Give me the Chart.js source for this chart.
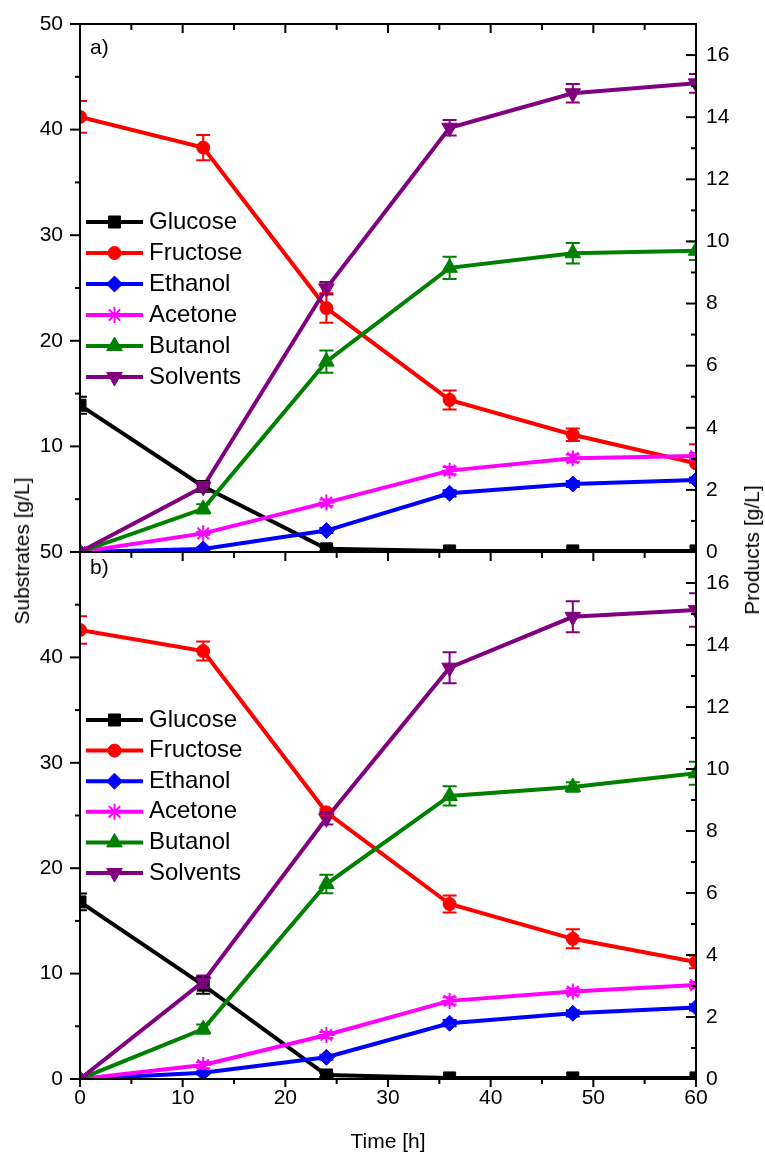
<!DOCTYPE html>
<html>
<head>
<meta charset="utf-8">
<title>Substrates and products over time</title>
<script src="https://cdn.jsdelivr.net/npm/chart.js@4.4.1/dist/chart.umd.min.js"></script>
<style>
  html, body { margin: 0; padding: 0; background: #fff; }
  #wrap { position: relative; width: 765px; height: 1155px; overflow: hidden; background: #fff; }
  canvas { position: absolute; left: 0; }
  #chartA { top: 0; }
  #chartB { top: 530px; }
  .ytitle {
    position: absolute;
    font: 21px 'Liberation Sans', Arial, Helvetica, sans-serif;
    color: #000;
    white-space: nowrap;
    transform: translate(-50%, -50%) rotate(-90deg);
  }
</style>
</head>
<body>
<div id="wrap">
  <canvas id="chartA" width="765" height="575"></canvas>
  <canvas id="chartB" width="765" height="625"></canvas>
  <div class="ytitle" style="left:22px; top:551px;">Substrates [g/L]</div>
  <div class="ytitle" style="left:752px; top:550px;">Products [g/L]</div>
</div>
<script>
// ---- data ----
const hours = [0, 12, 24, 36, 48, 60];
const seriesNames = ['Glucose', 'Fructose', 'Ethanol', 'Acetone', 'Butanol', 'Solvents'];

// fermentation a)
const glucoseA  = [13.9, 6.2, 0.3, 0.1, 0.1, 0.1];
const fructoseA = [41.2, 38.3, 23.1, 14.4, 11.1, 8.4];
const ethanolA  = [0, 0.1, 0.69, 1.89, 2.19, 2.32];
const acetoneA  = [0, 0.6, 1.59, 2.62, 3.02, 3.09];
const butanolA  = [0, 1.39, 6.13, 9.15, 9.62, 9.70];
const solventsA = [0, 2.10, 8.49, 13.66, 14.77, 15.09];

const glucoseErrA  = [0.8, 0.5, 0.2, 0, 0, 0];
const fructoseErrA = [1.5, 1.2, 1.4, 0.9, 0.6, 1.8];
const ethanolErrA  = [0, 0.05, 0.08, 0.1, 0.1, 0.08];
const acetoneErrA  = [0, 0.05, 0.1, 0.12, 0.12, 0.1];
const butanolErrA  = [0, 0.15, 0.36, 0.36, 0.33, 0.3];
const solventsErrA = [0, 0.15, 0.2, 0.25, 0.3, 0.3];

// fermentation b)
const glucoseB  = [16.8, 8.9, 0.38, 0.1, 0.1, 0.1];
const fructoseB = [42.6, 40.6, 25.3, 16.6, 13.3, 11.1];
const ethanolB  = [0, 0.2, 0.70, 1.80, 2.12, 2.31];
const acetoneB  = [0, 0.45, 1.42, 2.52, 2.82, 3.03];
const butanolB  = [0, 1.61, 6.29, 9.13, 9.42, 9.86];
const solventsB = [0, 3.14, 8.41, 13.27, 14.91, 15.13];

const glucoseErrB  = [0.8, 0.8, 0.2, 0, 0, 0];
const fructoseErrB = [1.3, 0.9, 0.3, 0.8, 0.9, 0.6];
const ethanolErrB  = [0, 0.05, 0.08, 0.1, 0.1, 0.1];
const acetoneErrB  = [0, 0.1, 0.1, 0.12, 0.1, 0.1];
const butanolErrB  = [0, 0.15, 0.3, 0.31, 0.15, 0.37];
const solventsErrB = [0, 0.2, 0.2, 0.5, 0.5, 0.54];

// ---- styles ----
const seriesStyles = [
  { color: '#000000', pointStyle: 'rect',     radius: 8.5, rotation: 0,   axis: 'y'  },
  { color: '#ff0000', pointStyle: 'circle',   radius: 6.5, rotation: 0,   axis: 'y'  },
  { color: '#0000ff', pointStyle: 'rectRot',  radius: 8,   rotation: 0,   axis: 'y2' },
  { color: '#ff00ff', pointStyle: 'star',     radius: 8,   rotation: 0,   axis: 'y2' },
  { color: '#008000', pointStyle: 'triangle', radius: 9,   rotation: 0,   axis: 'y2' },
  { color: '#800080', pointStyle: 'triangle', radius: 9,   rotation: 180, axis: 'y2' }
];

const FONT = "'Liberation Sans', Arial, Helvetica, sans-serif";
Chart.defaults.font.family = FONT;
Chart.defaults.font.size = 21;
Chart.defaults.color = '#000';

function makeDatasets(values, errors) {
  return seriesNames.map((name, i) => {
    const s = seriesStyles[i];
    return {
      label: name,
      data: hours.map((h, k) => ({ x: h, y: values[i][k] })),
      errors: errors[i],
      yAxisID: s.axis,
      borderColor: s.color,
      backgroundColor: s.color,
      borderWidth: 4,
      pointStyle: s.pointStyle,
      pointRadius: s.radius,
      pointHoverRadius: s.radius,
      pointRotation: s.rotation,
      pointBackgroundColor: s.color,
      pointBorderColor: s.color,
      pointBorderWidth: s.pointStyle === 'star' ? 2 : 1,
      tension: 0,
      clip: 0,
      order: seriesNames.length - 1 - i
    };
  });
}

// vertical error bars with caps, clipped to the plot frame
const errorBars = {
  id: 'errorBars',
  afterDatasetsDraw(chart) {
    const { ctx, chartArea: a } = chart;
    ctx.save();
    ctx.beginPath();
    ctx.rect(a.left, a.top, a.right - a.left, a.bottom - a.top);
    ctx.clip();
    chart.data.datasets.forEach(ds => {
      if (!ds.errors) return;
      const ys = chart.scales[ds.yAxisID];
      const xs = chart.scales.x;
      ctx.strokeStyle = ds.borderColor;
      ctx.lineWidth = 2;
      ds.data.forEach((p, i) => {
        const e = ds.errors[i];
        if (!e) return;
        const x = xs.getPixelForValue(p.x);
        const y1 = ys.getPixelForValue(p.y + e);
        const y2 = ys.getPixelForValue(p.y - e);
        ctx.beginPath();
        ctx.moveTo(x, y1); ctx.lineTo(x, y2);
        ctx.moveTo(x - 7, y1); ctx.lineTo(x + 7, y1);
        ctx.moveTo(x - 7, y2); ctx.lineTo(x + 7, y2);
        ctx.stroke();
      });
    });
    ctx.restore();
  }
};

// frame with major and minor tick marks
function makeFrameTicks(axes) {
  return {
    id: 'frameTicks',
    afterDraw(chart) {
      const { ctx, chartArea: a } = chart;
      ctx.save();
      ctx.strokeStyle = '#000';
      ctx.lineWidth = 2;
      ctx.strokeRect(a.left, a.top, a.right - a.left, a.bottom - a.top);
      axes.forEach(ax => {
        const scale = chart.scales[ax.id];
        const n = Math.round((scale.max - scale.min) / ax.minor);
        for (let k = 0; k <= n; k++) {
          const v = scale.min + k * ax.minor;
          const r = v / ax.major;
          const isMajor = Math.abs(r - Math.round(r)) < 1e-6;
          const p = scale.getPixelForValue(v);
          ax.edges.forEach(ed => {
            const len = isMajor ? ed.major : ed.minor;
            ctx.beginPath();
            if (ed.side === 'top' || ed.side === 'bottom') {
              const y0 = a[ed.side];
              ctx.moveTo(p, y0); ctx.lineTo(p, y0 + ed.dir * len);
            } else {
              const x0 = a[ed.side];
              ctx.moveTo(x0, p); ctx.lineTo(x0 + ed.dir * len, p);
            }
            ctx.stroke();
          });
        }
      });
      ctx.restore();
    }
  };
}

// legend inside the plot plus the panel letter
function makeInsideLegend(cfg) {
  return {
    id: 'insideLegend',
    afterDraw(chart) {
      const ctx = chart.ctx;
      ctx.save();
      ctx.fillStyle = '#000';
      ctx.font = '21px ' + FONT;
      ctx.textAlign = 'left';
      ctx.textBaseline = 'middle';
      ctx.fillText(cfg.letter, cfg.letterX, cfg.letterY);
      chart.data.datasets.forEach((ds, i) => {
        const y = cfg.top + i * cfg.gap;
        ctx.strokeStyle = ds.borderColor;
        ctx.lineWidth = 4;
        ctx.beginPath();
        ctx.moveTo(cfg.x0, y); ctx.lineTo(cfg.x1, y);
        ctx.stroke();
        ctx.fillStyle = ds.pointBackgroundColor;
        ctx.strokeStyle = ds.pointBorderColor;
        ctx.lineWidth = ds.pointBorderWidth;
        Chart.helpers.drawPoint(ctx, {
          pointStyle: ds.pointStyle,
          rotation: ds.pointRotation,
          radius: ds.pointRadius,
          borderWidth: ds.pointBorderWidth
        }, (cfg.x0 + cfg.x1) / 2, y);
        ctx.fillStyle = '#000';
        ctx.font = '24px ' + FONT;
        ctx.fillText(ds.label, cfg.textX, y);
      });
      ctx.restore();
    }
  };
}

// invisible tick marks keep the labels off the axis without inflating layout padding
function hiddenTickGrid(len) {
  return { display: true, drawOnChartArea: false, drawTicks: true, tickLength: len, tickColor: 'rgba(0,0,0,0)' };
}

function makeScales(bottomPanel) {
  const tickFont = { size: 21, lineHeight: 1 };
  return {
    x: {
      type: 'linear', min: 0, max: 60,
      ticks: { display: bottomPanel, stepSize: 10, padding: 9, maxRotation: 0, color: '#000', font: tickFont },
      grid: { display: false, drawTicks: false },
      border: { display: false },
      title: { display: bottomPanel, text: 'Time [h]', color: '#000', font: { size: 21 }, padding: { top: 0, bottom: 0 } },
      afterFit(s) { s.height = bottomPanel ? 76 : 23; }
    },
    y: {
      type: 'linear', position: 'left', min: 0, max: 50,
      ticks: {
        stepSize: 10, padding: 7, color: '#000', font: tickFont,
        callback: v => (!bottomPanel && v === 0) ? '' : v
      },
      grid: hiddenTickGrid(10),
      border: { display: false },
      afterFit(s) { s.width = 80; }
    },
    y2: {
      type: 'linear', position: 'right', min: 0, max: 17,
      ticks: { stepSize: 2, includeBounds: false, padding: 6, color: '#000', font: tickFont },
      grid: hiddenTickGrid(4),
      border: { display: false },
      afterFit(s) { s.width = 69; }
    }
  };
}

function makeChart(canvasId, values, errors, bottomPanel, legendCfg, padTop) {
  const xEdges = bottomPanel
    ? [{ side: 'bottom', dir: 1, major: 8, minor: 5 }]
    : [{ side: 'top', dir: 1, major: 9, minor: 6 }, { side: 'bottom', dir: 1, major: 9, minor: 6 }];
  const frame = makeFrameTicks([
    { id: 'x',  minor: 5, major: 10, edges: xEdges },
    { id: 'y',  minor: 5, major: 10, edges: [{ side: 'left',  dir: -1, major: 10, minor: 5 }] },
    { id: 'y2', minor: 1, major: 2,  edges: [{ side: 'right', dir: -1, major: 10, minor: 5 }] }
  ]);
  return new Chart(document.getElementById(canvasId), {
    type: 'line',
    data: { datasets: makeDatasets(values, errors) },
    options: {
      responsive: false,
      animation: false,
      devicePixelRatio: 1,
      events: [],
      layout: { padding: { top: padTop, left: 0, right: 0, bottom: 0 } },
      scales: makeScales(bottomPanel),
      plugins: { legend: { display: false }, tooltip: { enabled: false } }
    },
    plugins: [errorBars, frame, makeInsideLegend(legendCfg)]
  });
}

makeChart('chartA',
  [glucoseA, fructoseA, ethanolA, acetoneA, butanolA, solventsA],
  [glucoseErrA, fructoseErrA, ethanolErrA, acetoneErrA, butanolErrA, solventsErrA],
  false,
  { letter: 'a)', letterX: 90, letterY: 48, x0: 86, x1: 143, textX: 149, top: 222, gap: 31 },
  24);

makeChart('chartB',
  [glucoseB, fructoseB, ethanolB, acetoneB, butanolB, solventsB],
  [glucoseErrB, fructoseErrB, ethanolErrB, acetoneErrB, butanolErrB, solventsErrB],
  true,
  { letter: 'b)', letterX: 90, letterY: 38, x0: 86, x1: 143, textX: 149, top: 190, gap: 30.6 },
  22);
</script>
</body>
</html>
